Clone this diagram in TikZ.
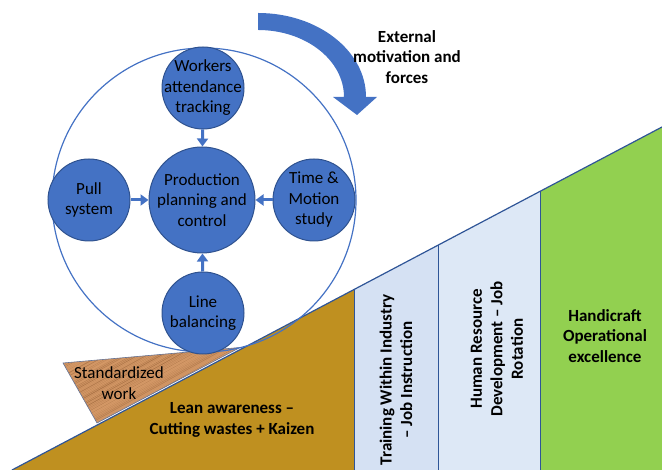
\documentclass[tikz,border=0pt]{standalone}
\usepackage{xcolor}
\usepackage{fontspec}
\setmainfont{Carlito}
\usepackage{tikz}
\usetikzlibrary{arrows.meta, calc, positioning}

\definecolor{ppblue}{RGB}{68,114,196}
\definecolor{ppedge}{RGB}{47,82,143}
\definecolor{rampline}{RGB}{47,85,151}
\definecolor{leangold}{RGB}{191,144,32}
\definecolor{twiblue}{RGB}{213,225,243}
\definecolor{hrdblue}{RGB}{221,232,246}
\definecolor{hcgreen}{RGB}{146,208,80}
\definecolor{woodtan}{RGB}{214,154,104}
\definecolor{woodgrain}{RGB}{130,78,38}
\definecolor{woodedge}{RGB}{100,115,150}

\begin{document}
\begin{tikzpicture}[x=1pt,y=1pt,
  bubble/.style={circle,draw=ppedge,line width=1pt,fill=ppblue,inner sep=-12pt,align=center,font=\fontsize{17}{20.5}\selectfont},
  feed/.style={draw=ppblue,line width=3pt,-{Triangle[width=11pt,length=8pt]}},
  lbl/.style={align=center,font=\fontsize{17}{20.5}\selectfont\bfseries}]
  \useasboundingbox (0,0) rectangle (662,470);
  % the ramp
  \coordinate (foot) at (12,0);
  \coordinate (peak) at (662,343);
  \begin{scope}
    \clip (foot) -- (peak) -- (662,0) -- cycle;
    \fill[leangold] (0,0) rectangle (354,470);
    \fill[twiblue] (354,0) rectangle (438,470);
    \fill[hrdblue] (438,0) rectangle (540,470);
    \fill[hcgreen] (540,0) rectangle (662,470);
    \draw[rampline,line width=0.8pt] (354,0) -- (354,470) (438,0) -- (438,470) (540,0) -- (540,470);
  \end{scope}
  \draw[rampline,line width=1.2pt] (foot) -- (peak);
  % wedge
  \coordinate (wl) at (63,107);
  \coordinate (wr) at (240,122.5);
  \coordinate (wb) at (97,47);
  \fill[woodtan] (wl) -- (wr) -- (wb) -- cycle;
  \begin{scope}
    \clip (wl) -- (wr) -- (wb) -- cycle;
    \pgfmathsetseed{7}
    \foreach \o in {0,1.6,...,84} {
      \pgfmathsetmacro{\op}{0.05+0.45*rnd}
      \pgfmathsetmacro{\lw}{0.3+0.6*rnd}
      \draw[woodgrain,line width=\lw pt,draw opacity=\op] (40,{14+\o}) -- (260,{136+\o});
    }
  \end{scope}
  \draw[woodedge,line width=0.6pt] (wl) -- (wr) -- (wb) -- cycle;
  % outer ring and bubbles
  \node[circle,draw=ppblue,line width=1.2pt,minimum size=304pt,inner sep=0pt] (ring) at (204,270) {};
  \node[bubble,minimum size=106pt] (prod) at (202,270) {Production\\planning and\\control};
  \node[bubble,minimum size=82pt] (work) at (203,382) {Workers\\attendance\\tracking};
  \node[bubble,minimum size=82pt] (pull) at (89,270) {Pull\\system};
  \node[bubble,minimum size=82pt] (time) at (314,270) {Time \&\\Motion\\study};
  \node[bubble,minimum size=82pt] (line) at (203,157) {Line\\balancing};
  \draw[feed] (work) -- (prod);
  \draw[feed] (pull) -- (prod);
  \draw[feed] (time) -- (prod);
  \draw[feed] (line) -- (prod);
  % curved arrow
  \fill[ppblue] (258,457) arc[start angle=90,end angle=0,x radius=108,y radius=84]
    -- (377,373) -- (357,355) -- (333,373) -- (344,373)
    arc[start angle=0,end angle=90,x radius=86,y radius=67] -- cycle;
  \node[lbl] (ext) at (407,413) {External\\motivation and\\forces};
  % labels on the ramp
  \node[lbl] (lean) at (232,50) {Lean awareness –\\Cutting wastes + Kaizen};
  \node[align=center,font=\fontsize{17}{20.5}\selectfont] (std) at (119,87) {Standardized\\work};
  \node[lbl,rotate=90] (twi) at (396,90) {Training Within Industry\\– Job Instruction};
  \node[lbl,rotate=90] (hrd) at (497,121) {Human Resource\\Development – Job\\Rotation};
  \node[lbl] (hc) at (605,134) {Handicraft\\Operational\\excellence};
\end{tikzpicture}
\end{document}
